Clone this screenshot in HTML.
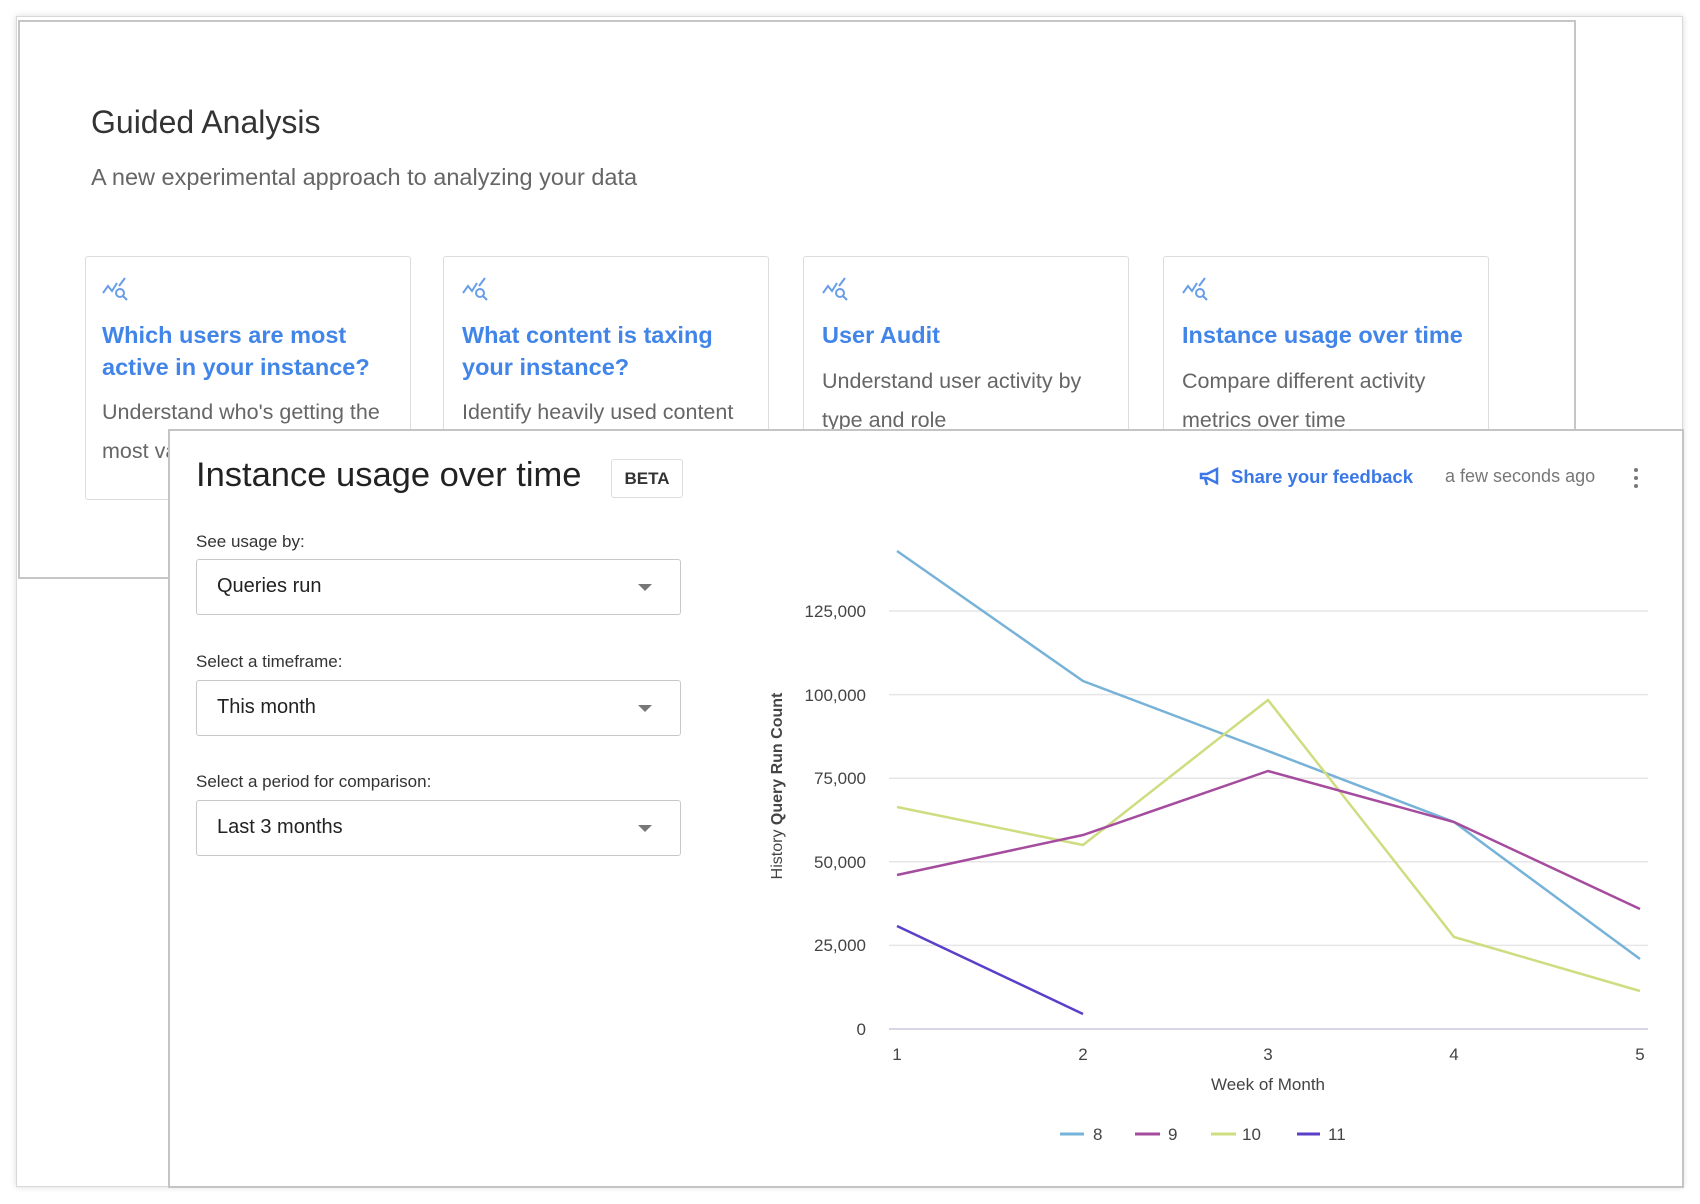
<!DOCTYPE html>
<html><head><style>
body{margin:0;width:1700px;height:1204px;background:#fff;position:relative;overflow:hidden;font-family:"Liberation Sans",sans-serif;}
.a{position:absolute;}
.outer{left:16px;top:16px;width:1665px;height:1169px;border:1px solid #d8d8d8;box-shadow:0 0 6px rgba(0,0,0,.15);}
.back{left:18px;top:20px;width:1554px;height:555px;border:2px solid #c6c6c6;background:#fff;}
.card{top:256px;width:324px;height:242px;border:1px solid #dcdcdc;border-radius:3px;background:#fff;}
.ct{font-size:23.5px;font-weight:bold;color:#4285e8;line-height:32px;}
.cd{font-size:21.5px;color:#666;line-height:39px;white-space:nowrap;}
.front{left:168px;top:429px;width:1512px;height:755px;border:2px solid #c4c4c4;background:#fff;}
.lbl{font-size:17px;color:#333;}
.sel{left:196px;width:483px;height:54px;border:1px solid #c8c8c8;border-radius:3px;font-size:20px;color:#222;}
.sel span{position:absolute;left:20px;top:15px;}
.sel i{position:absolute;right:28px;top:24px;width:0;height:0;border-left:7px solid transparent;border-right:7px solid transparent;border-top:7px solid #777;}
</style></head><body>
<div class="a outer"></div>
<div class="a back"></div>
<div class="a" style="left:91px;top:104px;font-size:32px;color:#333;">Guided Analysis</div>
<div class="a" style="left:91px;top:164px;font-size:23.5px;color:#666;">A new experimental approach to analyzing your data</div>

<div class="a card" style="left:85px"></div>
<div class="a card" style="left:443px"></div>
<div class="a card" style="left:803px"></div>
<div class="a card" style="left:1163px"></div>

<svg class="a" style="left:0;top:0" width="1700" height="320">
<g fill="none" stroke="#6a9de8" stroke-width="2">
<g transform="translate(103,278)"><path d="M0 15 L5 8 L9 13 L14 5 M16 8 L22 0"/><circle cx="17" cy="15" r="4"/><path d="M20 18 L24 22"/></g>
<g transform="translate(463,278)"><path d="M0 15 L5 8 L9 13 L14 5 M16 8 L22 0"/><circle cx="17" cy="15" r="4"/><path d="M20 18 L24 22"/></g>
<g transform="translate(823,278)"><path d="M0 15 L5 8 L9 13 L14 5 M16 8 L22 0"/><circle cx="17" cy="15" r="4"/><path d="M20 18 L24 22"/></g>
<g transform="translate(1183,278)"><path d="M0 15 L5 8 L9 13 L14 5 M16 8 L22 0"/><circle cx="17" cy="15" r="4"/><path d="M20 18 L24 22"/></g>
</g></svg>

<div class="a ct" style="left:102px;top:319px">Which users are most<br>active in your instance?</div>
<div class="a cd" style="left:102px;top:393px">Understand who's getting the<br>most value</div>
<div class="a ct" style="left:462px;top:319px">What content is taxing<br>your instance?</div>
<div class="a cd" style="left:462px;top:393px">Identify heavily used content</div>
<div class="a ct" style="left:822px;top:319px">User Audit</div>
<div class="a cd" style="left:822px;top:362px">Understand user activity by<br>type and role</div>
<div class="a ct" style="left:1182px;top:319px">Instance usage over time</div>
<div class="a cd" style="left:1182px;top:362px">Compare different activity<br>metrics over time</div>

<div class="a front"></div>
<div class="a" style="left:196px;top:456px;font-size:34.5px;color:#222;">Instance usage over time</div>
<div class="a" style="left:611px;top:459px;width:70px;height:37px;border:1px solid #ddd;border-radius:3px;font-size:17px;font-weight:bold;color:#333;text-align:center;line-height:37px;">BETA</div>
<svg class="a" style="left:1199px;top:466px" width="24" height="22"><g fill="none" stroke="#3b78e7" stroke-width="2.5"><path d="M2 8 H8 L18 3 V17 L8 12 H2 Z M6 12 L8 19"/></g></svg>
<div class="a" style="left:1231px;top:466px;font-size:18.5px;font-weight:bold;color:#3b78e7;">Share your feedback</div>
<div class="a" style="left:1445px;top:466px;font-size:18px;color:#777;">a few seconds ago</div>
<div class="a" style="left:1634px;top:468px;width:4px;height:4px;border-radius:2px;background:#777;box-shadow:0 8px 0 #777,0 16px 0 #777;"></div>

<div class="a lbl" style="left:196px;top:532px">See usage by:</div>
<div class="a sel" style="top:559px"><span>Queries run</span><i></i></div>
<div class="a lbl" style="left:196px;top:652px">Select a timeframe:</div>
<div class="a sel" style="top:680px"><span>This month</span><i></i></div>
<div class="a lbl" style="left:196px;top:772px">Select a period for comparison:</div>
<div class="a sel" style="top:800px"><span>Last 3 months</span><i></i></div>

<svg class="a" style="left:0;top:0" width="1700" height="1204" font-family="Liberation Sans, sans-serif">
<g stroke="#e6e6e6" stroke-width="1.5">
<line x1="889" x2="1648" y1="611" y2="611"/><line x1="889" x2="1648" y1="694.6" y2="694.6"/>
<line x1="889" x2="1648" y1="778.2" y2="778.2"/><line x1="889" x2="1648" y1="861.8" y2="861.8"/>
<line x1="889" x2="1648" y1="945.4" y2="945.4"/></g>
<line x1="889" x2="1648" y1="1029" y2="1029" stroke="#d6d6e6" stroke-width="2"/>
<g font-size="17" fill="#444" text-anchor="end">
<text x="866" y="617">125,000</text><text x="866" y="701">100,000</text><text x="866" y="784">75,000</text>
<text x="866" y="868">50,000</text><text x="866" y="951">25,000</text><text x="866" y="1035">0</text></g>
<g font-size="17" fill="#444" text-anchor="middle">
<text x="897" y="1060">1</text><text x="1083" y="1060">2</text><text x="1268" y="1060">3</text><text x="1454" y="1060">4</text><text x="1640" y="1060">5</text>
<text x="1268" y="1090">Week of Month</text></g>
<text transform="translate(782,786) rotate(-90)" font-size="16" fill="#444" text-anchor="middle">History <tspan font-weight="bold">Query Run Count</tspan></text>
<g fill="none" stroke-width="2.5">
<polyline stroke="#77b3d8" points="897,551 1083,681 1268,751 1454,822 1640,959"/>
<polyline stroke="#cfdd80" points="897,807 1083,845 1268,700 1454,937 1640,991"/>
<polyline stroke="#a54c9e" points="897,875 1083,835 1268,771 1454,822 1640,909"/>
<polyline stroke="#5b3fc9" points="897,926 1083,1014"/>
</g>
<g stroke-width="3">
<line x1="1060" x2="1084" y1="1134" y2="1134" stroke="#77b3d8"/>
<line x1="1135" x2="1160" y1="1134" y2="1134" stroke="#a54c9e"/>
<line x1="1211" x2="1236" y1="1134" y2="1134" stroke="#cfdd80"/>
<line x1="1297" x2="1320" y1="1134" y2="1134" stroke="#5b3fc9"/></g>
<g font-size="17" fill="#444">
<text x="1093" y="1140">8</text><text x="1168" y="1140">9</text><text x="1242" y="1140">10</text><text x="1328" y="1140">11</text></g>
</svg>
</body></html>
